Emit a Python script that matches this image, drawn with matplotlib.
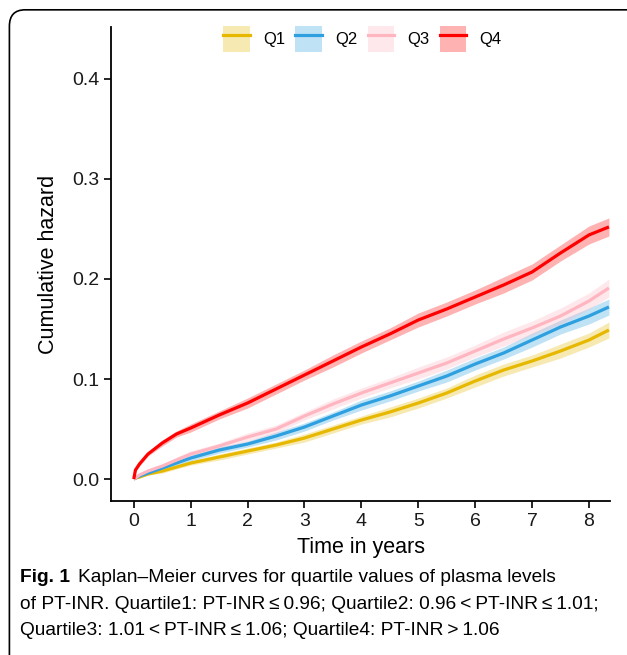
import matplotlib
matplotlib.use("Agg")
import matplotlib.pyplot as plt
from matplotlib.patches import Patch, FancyBboxPatch
from matplotlib.lines import Line2D
import numpy as np

# tempo (anos) e risco acumulado
tempo = [0, 0.03, 0.1, 0.25, 0.5, 0.75, 1, 1.5, 2, 2.5, 3, 3.5, 4, 4.5, 5, 5.5, 6, 6.5, 7, 7.5, 8, 8.35]
q1 = [0, 0.001, 0.002, 0.005, 0.008, 0.012, 0.016, 0.022, 0.028, 0.034, 0.041, 0.050, 0.059, 0.067, 0.076, 0.086, 0.098, 0.109, 0.118, 0.128, 0.139, 0.149]
q2 = [0, 0.001, 0.003, 0.006, 0.011, 0.016, 0.021, 0.029, 0.035, 0.043, 0.052, 0.063, 0.074, 0.083, 0.093, 0.103, 0.115, 0.126, 0.139, 0.152, 0.163, 0.172]
q3 = [0, 0.001, 0.004, 0.008, 0.013, 0.019, 0.025, 0.033, 0.042, 0.050, 0.063, 0.075, 0.086, 0.096, 0.106, 0.116, 0.128, 0.140, 0.151, 0.163, 0.178, 0.191]
q4 = [0, 0.009, 0.015, 0.025, 0.036, 0.045, 0.051, 0.064, 0.076, 0.090, 0.104, 0.118, 0.132, 0.145, 0.159, 0.170, 0.182, 0.194, 0.207, 0.226, 0.244, 0.252]

# meia largura do intervalo de confiança
ic1 = [0, 0.001, 0.001, 0.001, 0.002, 0.002, 0.002, 0.003, 0.003, 0.003, 0.004, 0.004, 0.004, 0.005, 0.005, 0.005, 0.006, 0.006, 0.006, 0.007, 0.007, 0.008]
ic2 = [0, 0.001, 0.001, 0.002, 0.002, 0.002, 0.003, 0.003, 0.003, 0.004, 0.004, 0.004, 0.005, 0.005, 0.005, 0.006, 0.006, 0.006, 0.007, 0.007, 0.008, 0.008]
ic3 = [0, 0.001, 0.001, 0.002, 0.002, 0.003, 0.003, 0.003, 0.004, 0.004, 0.004, 0.005, 0.005, 0.005, 0.006, 0.006, 0.006, 0.007, 0.007, 0.008, 0.008, 0.009]
ic4 = [0, 0.001, 0.002, 0.002, 0.003, 0.003, 0.004, 0.004, 0.005, 0.005, 0.005, 0.006, 0.006, 0.006, 0.007, 0.007, 0.007, 0.008, 0.008, 0.008, 0.009, 0.009]

rotulos = ["Q1", "Q2", "Q3", "Q4"]
cores = ["#E7B800", "#2E9FDF", "#FFB6C1", "#FF0000"]

xticks = [0, 1, 2, 3, 4, 5, 6, 7, 8]
yticks = [0.0, 0.1, 0.2, 0.3, 0.4]

legenda_titulo = "Fig. 1"
legenda_linhas = [
    "Kaplan\u2013Meier curves for quartile values of plasma levels",
    "of PT-INR. Quartile1: PT-INR\u2009\u2264\u20090.96; Quartile2: 0.96\u2009<\u2009PT-INR\u2009\u2264\u20091.01;",
    "Quartile3: 1.01\u2009<\u2009PT-INR\u2009\u2264\u20091.06; Quartile4: PT-INR\u2009>\u20091.06",
]

plt.rcParams["font.family"] = ["Liberation Sans", "DejaVu Sans"]

fig = plt.figure(figsize=(6.27, 6.55), dpi=100)
ax = fig.add_axes([0.177, 0.235, 0.796, 0.724])

series = [q1, q2, q3, q4]
ics = [ic1, ic2, ic3, ic4]
t = np.array(tempo)
for y, ic, cor in zip(series, ics, cores):
    y = np.array(y)
    ic = np.array(ic)
    ax.fill_between(t, y - ic, y + ic, color=cor, alpha=0.3, lw=0)
for y, cor in zip(series, cores):
    ax.plot(t, y, color=cor, lw=2.3, solid_capstyle="butt")

ax.set_xlim(-0.4, 8.37)
ax.set_ylim(-0.022, 0.452)
ax.set_xticks(xticks)
ax.set_yticks(yticks)
ax.set_yticklabels([f"{v:.1f}" for v in yticks])
ax.tick_params(labelsize=14, length=5, width=1.2, color="black", labelcolor="#1a1a1a")
for s in ["top", "right"]:
    ax.spines[s].set_visible(False)
for s in ["left", "bottom"]:
    ax.spines[s].set_linewidth(1.3)
ax.set_xlabel("Time in years", fontsize=15.5, labelpad=5)
ax.set_ylabel("Cumulative hazard", fontsize=15.5, labelpad=9)

handles = [(Patch(facecolor=c, alpha=0.3, edgecolor="none"), Line2D([], [], color=c, lw=2.3)) for c in cores]
ax.legend(handles, rotulos, loc="center", bbox_to_anchor=(0.504, 0.975), ncol=4, frameon=False,
          fontsize=12, handlelength=1.6, handleheight=2.0, columnspacing=0.6, handletextpad=0.8)

# moldura arredondada
caixa = FancyBboxPatch((0.015, -0.05), 1.05, 1.035, boxstyle="round,pad=0,rounding_size=0.025",
                       transform=fig.transFigure, fill=False, ec="black", lw=1.2, clip_on=False)
fig.patches.append(caixa)

ys = [0.118, 0.077, 0.038]
fig.text(0.032, ys[0], legenda_titulo, fontsize=13.8, fontweight="bold", va="center")
fig.text(0.125, ys[0], legenda_linhas[0], fontsize=13.8, va="center")
fig.text(0.032, ys[1], legenda_linhas[1], fontsize=13.8, va="center")
fig.text(0.032, ys[2], legenda_linhas[2], fontsize=13.8, va="center")

fig.savefig("out.png", dpi=100)
